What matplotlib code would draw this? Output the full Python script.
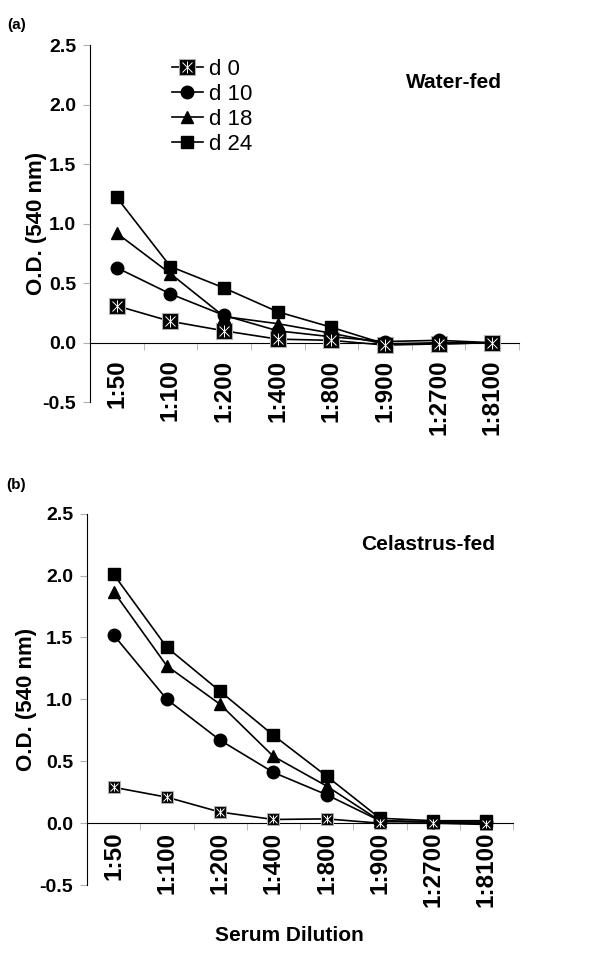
import matplotlib

matplotlib.use("Agg")

import matplotlib.pyplot as plt
import numpy as np

plt.rcParams["font.family"] = ["Liberation Sans", "DejaVu Sans"]

dilutions = ["1:50", "1:100", "1:200", "1:400", "1:800", "1:900", "1:2700", "1:8100"]
days = ["d 0", "d 10", "d 18", "d 24"]

# panel (a) Water-fed
water_d0 = [0.31, 0.18, 0.10, 0.03, 0.02, -0.02, -0.01, 0.00]
water_d10 = [0.63, 0.41, 0.23, 0.10, 0.05, 0.01, 0.02, 0.00]
water_d18 = [0.92, 0.58, 0.22, 0.16, 0.08, -0.01, 0.00, 0.00]
water_d24 = [1.22, 0.64, 0.46, 0.26, 0.13, -0.01, -0.01, 0.00]

# panel (b) Celastrus-fed
cel_d0 = [0.29, 0.21, 0.09, 0.03, 0.035, 0.00, 0.00, -0.01]
cel_d10 = [1.52, 1.00, 0.67, 0.41, 0.23, 0.02, 0.01, 0.01]
cel_d18 = [1.87, 1.27, 0.96, 0.54, 0.30, 0.02, 0.01, 0.00]
cel_d24 = [2.01, 1.42, 1.065, 0.71, 0.38, 0.04, 0.02, 0.02]

GREY = "#b0b0b0"


def draw_panel(ax, series, title, d0_size, label_pad, title_xy, ylabel_x):
    x = np.arange(len(dilutions))
    d0, d10, d18, d24 = series
    # d 0: black square with a white star drawn over it
    sq, = ax.plot(x, d0, color="black", lw=1.2, marker="s", ms=d0_size,
                  mfc="black", mec=GREY, mew=0.8, zorder=3)
    cross, = ax.plot(x, d0, ls="none", marker="x", ms=d0_size * 0.7,
                     mec="white", mew=0.7, zorder=4)
    bar, = ax.plot(x, d0, ls="none", marker="|", ms=d0_size * 0.8,
                   mec="white", mew=0.7, zorder=4)
    l10, = ax.plot(x, d10, color="black", lw=1.2, marker="o", ms=9, zorder=3)
    l18, = ax.plot(x, d18, color="black", lw=1.2, marker="^", ms=8.5, zorder=3)
    l24, = ax.plot(x, d24, color="black", lw=1.2, marker="s", ms=8.5, zorder=3)

    ax.set_xlim(-0.5, len(dilutions) - 0.5)
    ax.set_ylim(-0.5, 2.5)
    yt = np.arange(-0.5, 2.51, 0.5)
    ax.set_yticks(yt)
    ax.set_yticklabels([f"{v:.1f}" for v in yt], fontsize=14, fontweight="bold")
    ax.tick_params(axis="y", length=5, color=GREY, pad=5)

    ax.spines["top"].set_visible(False)
    ax.spines["right"].set_visible(False)
    ax.spines["bottom"].set_position(("data", 0))

    ax.set_xticks(x)
    ax.set_xticklabels(dilutions, rotation=90, fontsize=17.5, fontweight="bold",
                       va="top", ha="center")
    ax.tick_params(axis="x", length=0, pad=label_pad)
    ax.set_xticks(np.arange(0.5, len(dilutions) - 0.4, 1.0), minor=True)
    ax.tick_params(axis="x", which="minor", length=5, color=GREY, direction="out")

    ax.set_ylabel("O.D. (540 nm)", fontsize=16, fontweight="bold")
    ax.yaxis.set_label_coords(ylabel_x, 0.5)
    ax.text(title_xy[0], title_xy[1], title, transform=ax.transAxes,
            ha="right", va="center", fontsize=15, fontweight="bold")
    return [(sq, cross, bar), l10, l18, l24]


fig = plt.figure(figsize=(6, 9.6), dpi=100)
ax_a = fig.add_axes([0.15, 0.581, 0.715, 0.372])
ax_b = fig.add_axes([0.145, 0.078, 0.71, 0.387])

handles = draw_panel(ax_a, [water_d0, water_d10, water_d18, water_d24], "Water-fed",
                     d0_size=11, label_pad=12, title_xy=(0.96, 0.894), ylabel_x=-0.10)
draw_panel(ax_b, [cel_d0, cel_d10, cel_d18, cel_d24], "Celastrus-fed",
           d0_size=8, label_pad=6, title_xy=(0.958, 0.916), ylabel_x=-0.117)

ax_a.legend(handles, days, loc="upper left", bbox_to_anchor=(0.19, 0.962),
            frameon=False, fontsize=16, handlelength=1.4, handletextpad=0.3,
            labelspacing=0.18, borderpad=0, borderaxespad=0)

ax_b.set_xlabel("Serum Dilution", fontsize=15, fontweight="bold")
ax_b.xaxis.set_label_coords(0.475, -0.11)

fig.text(0.028, 0.974, "(a)", fontsize=11, fontweight="bold", ha="center", va="center")
fig.text(0.026, 0.495, "(b)", fontsize=11, fontweight="bold", ha="center", va="center")

fig.savefig("out.png", dpi=100, facecolor="white")
